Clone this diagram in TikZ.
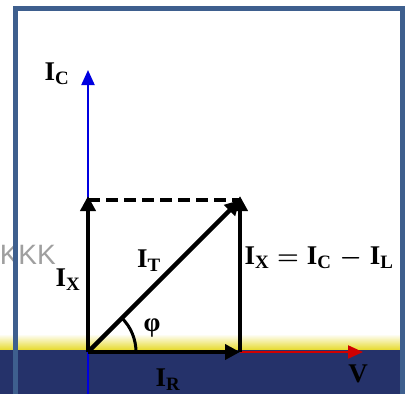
\documentclass[tikz,border=0pt]{standalone}
\usepackage{fontspec}
\setmainfont{Liberation Serif}
\setsansfont{Liberation Sans}
\usepackage{tikz}
\usetikzlibrary{arrows.meta,positioning}

\definecolor{framecol}{HTML}{3E5F8E}
\definecolor{navy}{HTML}{25326A}
\definecolor{bandyellow}{HTML}{E6DA2A}
\definecolor{axisblue}{HTML}{0000E0}
\definecolor{axisred}{HTML}{D00000}

\newcommand{\cur}[1]{I\textsubscript{#1}}
\newcommand{\gap}{\hspace{8pt}}

\begin{document}
\begin{tikzpicture}[
  x=1pt, y=-1pt,
  vec/.style={-{Triangle[length=15pt,width=15pt]}, line width=4.5pt, black},
  axis/.style={-{Triangle[length=15pt,width=13pt]}, line width=2pt},
  lab/.style={font=\fontsize{27}{30}\selectfont\bfseries\boldmath, inner sep=0pt}
]
  \useasboundingbox (0,0) rectangle (405,394);
  % background of the slide
  \fill[white] (0,0) rectangle (405,394);
  \fill[top color=white, bottom color=bandyellow] (0,334) rectangle (405,350);
  \fill[navy] (0,350) rectangle (405,394);
  \node[inner sep=0pt, text=gray!75, font=\sffamily\fontsize{28}{30}\selectfont, anchor=east] (kkk) at (56,255) {KKK};
  \draw[framecol, line width=5pt] (15.5,400) |- (402.5,8.5) -- (402.5,400);

  % points
  \coordinate (O) at (88,352);
  \coordinate (top) at (88,196);
  \coordinate (P) at (240,200);
  \coordinate (R) at (240,352);
  \coordinate (ctip) at (88,70);
  \coordinate (cbot) at (88,394);
  \coordinate (vtip) at (363,352);

  % axes
  \draw[axis, axisblue] (cbot) -- (ctip);
  \draw[axis, axisred] (R) -- (vtip);

  % phasors
  \draw[line width=4.5pt, dash pattern=on 12pt off 6pt] (88,200) -- (P);
  \draw[vec] (O) -- (top);
  \draw[vec] (O) -- (R);
  \draw[vec] (O) -- (P);
  \draw[vec] (R) -- (240,196);
  \draw[line width=3pt] ([xshift=48pt]O) arc[start angle=0, end angle=45, radius=48pt];

  % labels
  \node[lab] (ic) at (57,74) {\cur{C}};
  \node[lab] (ixl) at (68,280) {\cur{X}};
  \node[lab] (it) at (149,261) {\cur{T}};
  \node[lab] (ix) at (319,258) {\cur{X}\gap$=$\gap\cur{C}\gap$-$\gap\cur{L}};
  \node[lab] (phi) at (152,328) {φ};
  \node[lab] (ir) at (168,380) {\cur{R}};
  \node[lab] (v) at (358,374) {V};
\end{tikzpicture}
\end{document}
